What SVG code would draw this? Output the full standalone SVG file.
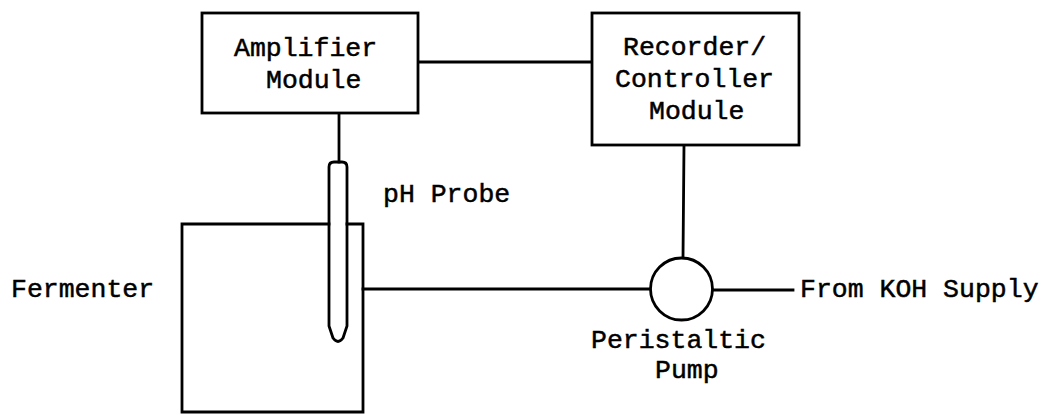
<svg xmlns="http://www.w3.org/2000/svg" width="1048" height="415" viewBox="0 0 1048 415">
<style>
.s{fill:none;stroke:#000;stroke-width:2.8;stroke-linejoin:miter;stroke-linecap:square}
.b{fill:#fff;stroke:#000;stroke-width:2.8}
text{font-family:"Liberation Mono","DejaVu Sans Mono",monospace;font-size:26.5px;fill:#000;stroke:#000;stroke-width:0.5}
</style>
<rect width="1048" height="415" fill="#fff"/>
<g id="connectors">
<line class="s" x1="418" y1="62" x2="592" y2="62"/>
<line class="s" x1="339" y1="113" x2="339" y2="162"/>
<line class="s" x1="684" y1="145" x2="683" y2="258"/>
<line class="s" x1="363" y1="289" x2="650" y2="289"/>
<line class="s" x1="713" y1="290" x2="793" y2="290"/>
</g>
<g id="amplifier">
<rect class="b" x="202" y="13" width="216" height="100"/>
<text x="234" y="56">Amplifier</text>
<text x="266" y="88">Module</text>
</g>
<g id="recorder">
<rect class="b" x="592" y="13" width="207" height="132"/>
<text x="623" y="55">Recorder/</text>
<text x="615" y="87">Controller</text>
<text x="649" y="119">Module</text>
</g>
<g id="fermenter">
<path class="s" d="M329,224 H182 V412 H363 V224 H347"/>
<text x="11" y="297">Fermenter</text>
</g>
<g id="probe">
<path class="s" d="M329,326 V167 Q329,162 334,162 H342 Q347,162 347,167 V326 L343,338 Q338,345 333,338 Z" fill="#fff"/>
<text x="383" y="202">pH Probe</text>
</g>
<g id="pump">
<circle class="b" cx="681.5" cy="289" r="31"/>
<text x="591" y="348">Peristaltic</text>
<text x="655" y="378">Pump</text>
</g>
<g id="supply">
<text x="800" y="297">From KOH Supply</text>
</g>
</svg>
